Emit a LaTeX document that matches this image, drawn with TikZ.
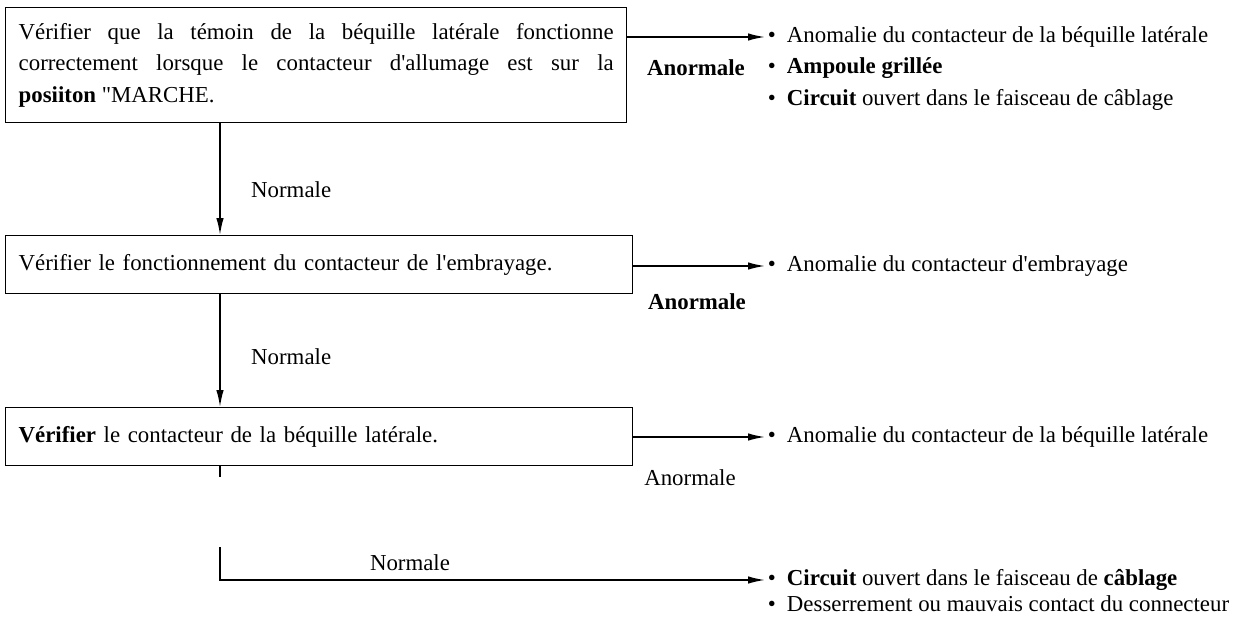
\documentclass[tikz,border=0pt]{standalone}
\usepackage{fontspec}
\setmainfont{Liberation Serif}
\usetikzlibrary{arrows.meta}
\newcommand{\gras}[1]{\textbf{#1}}
\newcommand{\puce}{\textbullet\hspace{0.22cm}}
\newcommand{\apos}{\textquotesingle}

\begin{document}
\begin{tikzpicture}[font=\fontsize{13}{17.9}\selectfont,
    boite/.style={draw, line width=0.8pt, rectangle, anchor=north west, inner xsep=0.26cm},
    cause/.style={anchor=west, inner sep=1.5pt},
    fleche/.style={-{Latex[length=3.4mm,width=1.5mm]}, line width=0.9pt}]
      \useasboundingbox (0,0) rectangle (24.76,-12.44);

      \node[boite, text width=11.9cm, align=justify, minimum height=2.3cm] (B1) at (0.1,-0.14)
        {V\'erifier que la t\'emoin de la b\'equille lat\'erale fonctionne\linebreak
         correctement lorsque le contacteur d\apos allumage est sur la\linebreak
         \gras{posiiton} \textquotedbl MARCHE.};
      \node[boite, text width=12.02cm, align=left, minimum height=1.16cm] (B2) at (0.1,-4.7)
        {V\'erifier le fonctionnement du contacteur de l\apos embrayage.};
      \node[boite, text width=12.02cm, align=left, minimum height=1.16cm] (B3) at (0.1,-8.14)
        {\gras{V\'erifier} le contacteur de la b\'equille lat\'erale.};

      \node[cause] (C1a) at (15.3,-0.74) {\puce Anomalie du contacteur de la b\'equille lat\'erale};
      \node[cause] (C1b) at (15.3,-1.36) {\puce \gras{Ampoule grill\'ee}};
      \node[cause] (C1c) at (15.3,-1.99) {\puce \gras{Circuit} ouvert dans le faisceau de c\^ablage};
      \node[cause] (C2) at (15.3,-5.32) {\puce Anomalie du contacteur d\apos embrayage};
      \node[cause] (C3) at (15.3,-8.74) {\puce Anomalie du contacteur de la b\'equille lat\'erale};
      \node[cause] (C4a) at (15.3,-11.6) {\puce \gras{Circuit} ouvert dans le faisceau de \gras{c\^ablage}};
      \node[cause] (C4b) at (15.3,-12.08) {\puce Desserrement ou mauvais contact du connecteur};

      \node (A1) at (13.92,-1.36) {\gras{Anormale}};
      \node (A2) at (13.94,-6.04) {\gras{Anormale}};
      \node (A3) at (13.8,-9.56) {Anormale};
      \node[anchor=west] (N1) at (4.9,-3.8) {Normale};
      \node[anchor=west] (N2) at (4.9,-7.14) {Normale};
      \node (N3) at (8.2,-11.26) {Normale};

      \draw[fleche] (B1.east |- C1a) -- (C1a);
      \draw[fleche] (B2.east |- C2) -- (C2);
      \draw[fleche] (B3.east |- C3) -- (C3);
      \draw[fleche] ([xshift=4.3cm]B1.south west) -- ([xshift=4.3cm]B2.north west);
      \draw[fleche] ([xshift=4.3cm]B2.south west) -- ([xshift=4.3cm]B3.north west);
      \draw[line width=0.9pt] ([xshift=4.3cm]B3.south west) -- ++(0,-0.22);
      \coordinate (coude) at (4.4,-10.94);
      \draw[fleche] (coude) |- (C4a);
\end{tikzpicture}
\end{document}
